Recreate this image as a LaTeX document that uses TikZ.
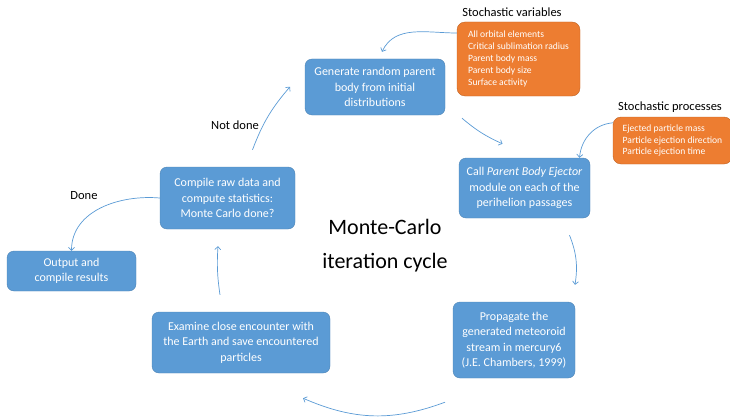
\documentclass[tikz,border=0pt]{standalone}
\usepackage{fontspec}
\setmainfont{Carlito}
\usepackage{xcolor}
\usetikzlibrary{arrows}
\definecolor{boxblue}{HTML}{5B9BD5}
\definecolor{boxorange}{HTML}{ED7D31}

\begin{document}
\begin{tikzpicture} [x=1pt, y=1pt,
    bluebox/.style={rounded corners=7pt, fill=boxblue, draw=boxblue!85!black,
      line width=0.4pt, text=white, align=center, inner sep=2pt,
      font=\fontsize{12}{15.5}\selectfont},
    orangebox/.style={rounded corners=8pt, fill=boxorange, draw=boxorange!80!black,
      line width=0.4pt, text=white, align=left, inner sep=2pt,
      font=\fontsize{9.6}{11.8}\selectfont},
    heading/.style={font=\fontsize{12.5}{15}\selectfont}
  ]
  \useasboundingbox (0,0) rectangle (730,416);

  % cycle
  \node[bluebox, minimum width=140pt, minimum height=56pt] (gen) at (375,329)
    {Generate random parent\\body from initial\\distributions};
  \node[bluebox, minimum width=131pt, minimum height=60pt] (call) at (524.5,228)
    {Call \textit{Parent Body Ejector}\\module on each of the\\perihelion passages};
  \node[bluebox, minimum width=122pt, minimum height=76pt] (prop) at (514,76)
    {Propagate the\\generated meteoroid\\stream in mercury6\\(J.E. Chambers, 1999)};
  \node[bluebox, minimum width=178pt, minimum height=61pt] (exam) at (241,73.5)
    {Examine close encounter with\\the Earth and save encountered\\particles};
  \node[bluebox, minimum width=135pt, minimum height=62pt] (comp) at (227.5,218)
    {Compile raw data and\\compute statistics:\\Monte Carlo done?};
  \node[bluebox, minimum width=129pt, minimum height=40pt] (out) at (71.5,145)
    {Output and\\compile results};

  % stochastic inputs
  \node[orangebox, minimum width=123pt, minimum height=74pt] (vars) at (518.5,357)
    {All orbital elements\\Critical sublimation radius\\Parent body mass\\Parent body size\\Surface activity};
  \node[heading] (varstitle) at (512,404) {Stochastic variables};
  \node[orangebox, minimum width=119pt, minimum height=47pt] (procs) at (672.5,275.5)
    {Ejected particle mass\\Particle ejection direction\\Particle ejection time};
  \node[heading] (procstitle) at (670,309) {Stochastic processes};

  \node[font=\fontsize{22}{34}\selectfont, align=center] (cycle) at (385,170)
    {Monte-Carlo\\iteration cycle};
  \node[heading] (notdone) at (235,291) {Not done};
  \node[heading] (done) at (84,220) {Done};

  \path[->, >=angle 90, boxblue, line width=0.7pt]
  ([yshift=26pt]vars.west) edge[out=180, in=65] ([xshift=7pt, yshift=7pt]gen.north)
  ([xshift=87pt, yshift=-3pt]gen.south) edge[bend right=8] ([xshift=-22pt, yshift=14pt]call.north)
  ([yshift=-6pt]procs.north west) edge[out=185, in=85] ([xshift=55pt]call.north)
  ([xshift=45pt, yshift=-17pt]call.south) edge[bend left=15] ([xshift=61pt, yshift=17pt]prop.north)
  ([xshift=-69pt, yshift=-24pt]prop.south) edge[bend left=22] ([xshift=62pt, yshift=-25pt]exam.south)
  ([xshift=-21pt, yshift=17pt]exam.north) edge[bend left=6] ([xshift=-9.5pt, yshift=-17pt]comp.south)
  ([xshift=25pt, yshift=17pt]comp.north) edge[bend left=10] ([xshift=-85pt, yshift=-28pt]gen.north)
  ;
  \path[->, >=angle 90, boxblue, line width=0.7pt]
  (comp.west) edge[out=175, in=90] (out.north)
  ;
\end{tikzpicture}
\end{document}
